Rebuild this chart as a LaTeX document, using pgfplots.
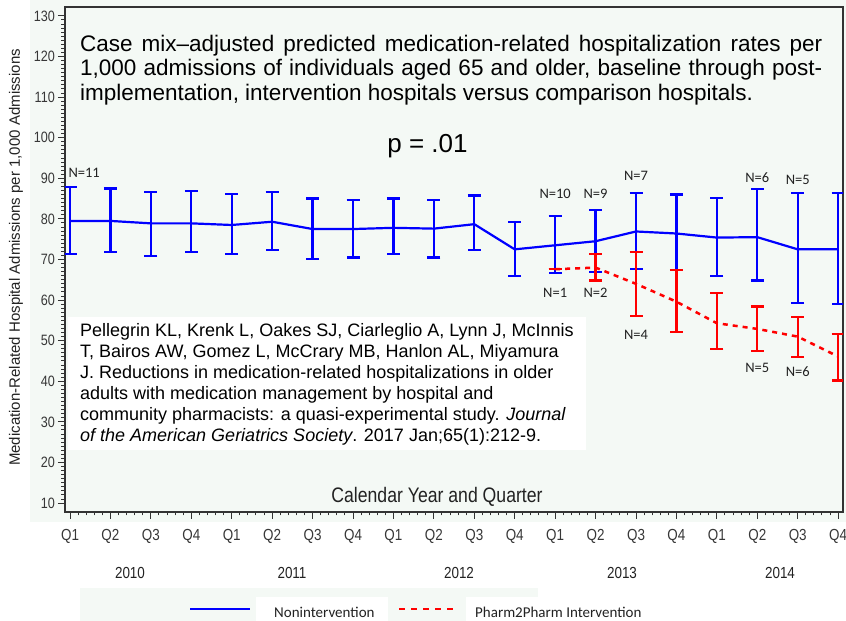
\documentclass[border=0pt]{standalone}
\usepackage{pgfplots}
\pgfplotsset{compat=1.18}
\usepackage{pgfplotstable}
\usepackage{fontspec}
\setmainfont{Liberation Sans}
\newfontfamily\carlito{Carlito}
\newfontfamily\narrowfont[FakeStretch=0.84]{Liberation Sans}
\definecolor{mint}{RGB}{244,249,245}
\definecolor{txt}{RGB}{34,34,34}
\definecolor{ticktxt}{RGB}{55,55,55}

\pgfplotstableread{
x  y     hi    lo
0  79.5  87.8  71.4
1  79.5  87.5  71.8
2  78.9  86.6  70.9
3  78.9  86.9  71.8
4  78.5  86.1  71.4
5  79.3  86.6  72.3
6  77.5  85.0  70.2
7  77.5  84.7  70.5
8  77.8  85.0  71.4
9  77.6  84.7  70.5
10 78.7  85.8  72.4
11 72.5  79.2  65.9
12 73.5  80.7  66.6
13 74.5  82.2  66.9
14 76.9  86.3  67.6
15 76.4  86.0  67.4
16 75.4  85.1  65.9
17 75.5  87.3  64.8
18 72.5  86.3  59.3
19 72.5  86.3  59.0
}\nonint

\pgfplotstableread{
x  y     hi    lo
12 67.6  67.6  67.6
13 68.0  71.4  64.8
14 64.0  71.8  56.1
15 59.6  67.4  52.1
16 54.3  61.7  47.9
17 52.9  58.4  47.4
18 51.0  55.9  46.0
19 46.1  51.7  40.2
}\pharm

\begin{document}
\begin{tikzpicture}[x=1bp,y=1bp]
\useasboundingbox (-65,-109) rectangle (781,512);
\clip (-65,-109) rectangle (781,512);
% backgrounds
\fill[white] (-65,-109) rectangle (781,512);
\fill[mint] (-35,-10) rectangle (781,512);
\fill[mint] (15,-76) rectangle (473,-109);
\fill[white] (191,-85) rectangle (323,-109);
\fill[white] (401,-85) rectangle (585,-109);

\begin{axis}[
  at={(0,0)}, anchor=south west,
  scale only axis, width=778bp, height=505bp,
  xmin=-0.124, xmax=19.12, ymin=7.8, ymax=132.2,
  axis line style={draw=black!80, line width=1.2bp},
  xtick={0,...,19},
  xticklabels={Q1,Q2,Q3,Q4,Q1,Q2,Q3,Q4,Q1,Q2,Q3,Q4,Q1,Q2,Q3,Q4,Q1,Q2,Q3,Q4},
  minor x tick num=4,
  ytick={10,20,...,130},
  minor y tick num=9,
  tick align=outside,
  xtick pos=left, ytick pos=left,
  major tick length=7bp, minor tick length=3.5bp,
  every tick/.style={black!80, line width=1bp},
  /pgf/number format/assume math mode=true,
  yticklabel style={font=\narrowfont\fontsize{15bp}{15bp}\selectfont, text=ticktxt, anchor=east, inner sep=0pt, xshift=-3bp},
  xticklabel style={font=\narrowfont\fontsize{16bp}{16bp}\selectfont, text=ticktxt, anchor=center, inner sep=0pt, yshift=-17bp},
]
\addplot[blue, line width=2.2bp, mark=none,
  error bars/.cd, y dir=both, y explicit,
  error bar style={line width=2.3bp, blue, solid},
  error mark options={rotate=90, blue, mark size=6.5bp, line width=2.3bp, solid}]
  table[x=x, y=y, y error plus expr=\thisrow{hi}-\thisrow{y}, y error minus expr=\thisrow{y}-\thisrow{lo}] {\nonint};
\addplot[red, line width=2.5bp, mark=none, dash pattern=on 5bp off 5bp,
  error bars/.cd, y dir=both, y explicit,
  error bar style={line width=2.3bp, red, solid},
  error mark options={rotate=90, red, mark size=6.5bp, line width=2.3bp, solid}]
  table[x=x, y=y, y error plus expr=\thisrow{hi}-\thisrow{y}, y error minus expr=\thisrow{y}-\thisrow{lo}] {\pharm};

\begin{scope}[every node/.style={font=\carlito\fontsize{14.5bp}{14.5bp}\selectfont, text=txt, inner sep=0pt}]
\node at (axis cs:0.35,91.3) {N=11};
\node at (axis cs:12,86.1) {N=10};
\node at (axis cs:13,86.1) {N=9};
\node at (axis cs:14,90.6) {N=7};
\node at (axis cs:17,90.1) {N=6};
\node at (axis cs:18,89.6) {N=5};
\node at (axis cs:12,61.8) {N=1};
\node at (axis cs:13,61.8) {N=2};
\node at (axis cs:14,51.4) {N=4};
\node at (axis cs:17,43.3) {N=5};
\node at (axis cs:18,42.4) {N=6};
\end{scope}
\end{axis}

% title
\node[anchor=base west, inner sep=0pt] at (15,477) {\parbox[t]{742bp}{\fontsize{22.5bp}{24.5bp}\selectfont\color{black}%
\makebox[742bp][s]{Case mix–adjusted predicted medication-related hospitalization rates per}\\
\makebox[742bp][s]{1,000 admissions of individuals aged 65 and older, baseline through post-}\\
implementation, intervention hospitals versus comparison hospitals.}};
% p value
\node[anchor=base, inner sep=0pt, font=\fontsize{26bp}{26bp}\selectfont] at (362.5,359) {p = .01};
% citation box
\fill[white] (3,62) rectangle (521,195);
\node[anchor=base west, inner sep=0pt] at (15,175.5) {\parbox[t]{510bp}{\fontsize{18bp}{21bp}\selectfont
Pellegrin KL, Krenk L, Oakes SJ, Ciarleglio A, Lynn J, McInnis\\
T, Bairos AW, Gomez L, McCrary MB, Hanlon AL, Miyamura\\
J. Reductions in medication-related hospitalizations in older\\
adults with medication management by hospital and\\
community pharmacists: a quasi-experimental study. \textit{Journal}\\
\textit{of the American Geriatrics Society}. 2017 Jan;65(1):212-9.}};
% axis labels
\node[anchor=base, inner sep=0pt, text=txt, font=\narrowfont\fontsize{21bp}{21bp}\selectfont] at (372,9) {Calendar Year and Quarter};
\node[rotate=90, inner sep=0pt, text=txt, font=\fontsize{15bp}{15bp}\selectfont] at (-49,254.5) {Medication-Related Hospital Admissions per 1,000 Admissions};
% years
\begin{scope}[every node/.style={font=\narrowfont\fontsize{16bp}{16bp}\selectfont, text=txt, inner sep=0pt}]
\node at (65,-61) {2010};
\node at (227,-61) {2011};
\node at (394,-61) {2012};
\node at (557,-61) {2013};
\node at (715,-61) {2014};
\end{scope}
% legend
\draw[blue, line width=2.5bp] (125,-97) -- (185,-97);
\draw[red, line width=2.5bp, dash pattern=on 6bp off 6bp] (334,-97) -- (388,-97);
\node[anchor=west, inner sep=0pt, text=txt, font=\carlito\fontsize{15bp}{15bp}\selectfont] at (209,-100) {Nonintervention};
\node[anchor=west, inner sep=0pt, text=txt, font=\carlito\fontsize{15bp}{15bp}\selectfont] at (410,-100) {Pharm2Pharm Intervention};
\end{tikzpicture}
\end{document}
